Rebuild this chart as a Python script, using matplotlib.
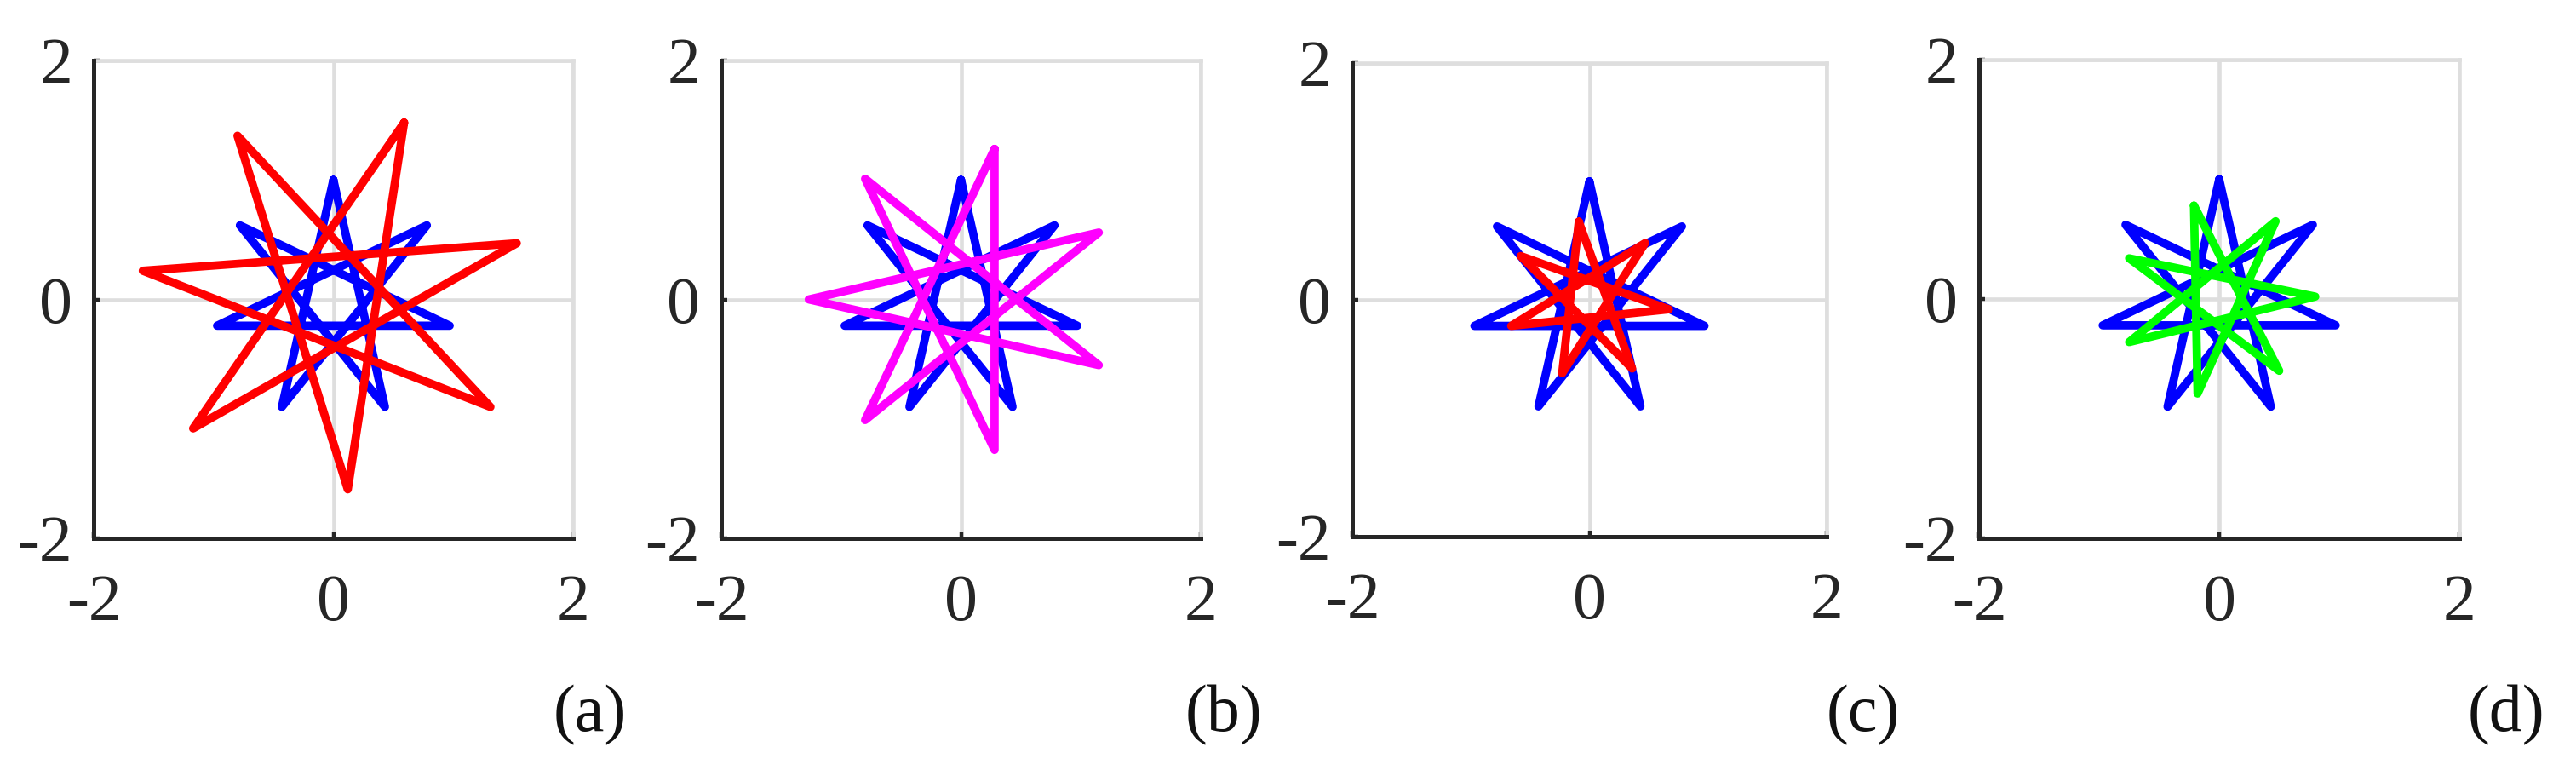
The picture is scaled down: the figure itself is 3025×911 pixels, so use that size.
import matplotlib
matplotlib.use("Agg")
import matplotlib.pyplot as plt

plt.rcParams["font.family"] = ["Liberation Serif", "DejaVu Serif"]
plt.rcParams["axes.unicode_minus"] = False

# ── Data: star vertices (clockwise, from first tip) ────────────────────────────
# original {7/3} star, drawn in blue on every panel
BLUE_X = [0.00, 0.78, 0.97, 0.43, -0.43, -0.97, -0.78]
BLUE_Y = [1.00, 0.62, -0.22, -0.90, -0.90, -0.22, 0.62]

# transformed stars
A_X = [0.59, 1.53, 1.31, 0.12, -1.17, -1.59, -0.80]
A_Y = [1.48, 0.47, -0.90, -1.59, -1.08, 0.24, 1.37]

B_X = [0.28, 1.15, 1.15, 0.28, -0.80, -1.27, -0.80]
B_Y = [1.26, 0.56, -0.55, -1.26, -1.01, 0.00, 1.01]

C_X = [-0.09, 0.47, 0.67, 0.36, -0.23, -0.66, -0.58]
C_Y = [0.66, 0.48, -0.08, -0.58, -0.62, -0.22, 0.37]

D_X = [-0.21, 0.47, 0.80, 0.50, -0.18, -0.75, -0.75]
D_Y = [0.78, 0.65, 0.02, -0.60, -0.79, -0.36, 0.34]

STAR_ORDER = [0, 3, 6, 2, 5, 1, 4, 0]   # vertex k joined to k+3

PANELS = [
    ("(a)", A_X, A_Y, "#ff0000"),
    ("(b)", B_X, B_Y, "#ff00ff"),
    ("(c)", C_X, C_Y, "#ff0000"),
    ("(d)", D_X, D_Y, "#00ff00"),
]
TICKS = [-2, 0, 2]

# ── Layout (pixels in a 3025x911 figure) ───────────────────────────────────────
W_PX, H_PX = 3025, 911
AX_BOXES = [  # left, bottom(y from top), width, height
    (110, 632, 563, 561),
    (847, 632, 563, 561),
    (1588, 630, 557, 556),
    (2324, 632, 564, 562),
]
LABEL_X = [693, 1437, 2188, 2943]
LABEL_Y = 840

AXIS_COLOR = "#262626"
GRID_COLOR = "#dedede"
FS = 56
LW = 7

fig = plt.figure(figsize=(W_PX / 100, H_PX / 100), dpi=100)

for (label, tx, ty, color), (l, b, w, h), lx in zip(PANELS, AX_BOXES, LABEL_X):
    ax = fig.add_axes([l / W_PX, 1 - b / H_PX, w / W_PX, h / H_PX])

    ax.plot([BLUE_X[i] for i in STAR_ORDER], [BLUE_Y[i] for i in STAR_ORDER],
            color="#0000ff", lw=LW, solid_joinstyle="round", solid_capstyle="round")
    ax.plot([tx[i] for i in STAR_ORDER], [ty[i] for i in STAR_ORDER],
            color=color, lw=LW, solid_joinstyle="round", solid_capstyle="round")

    ax.set_xlim(-2, 2)
    ax.set_ylim(-2, 2)
    ax.set_xticks(TICKS)
    ax.set_yticks(TICKS)
    ax.set_axisbelow(True)
    ax.grid(True, color=GRID_COLOR, lw=3.3)

    # top/right edges look like the grid lines at +2
    for side in ("top", "right"):
        ax.spines[side].set_color(GRID_COLOR)
        ax.spines[side].set_linewidth(3.3)
        ax.spines[side].set_zorder(0.6)
    for side in ("left", "bottom"):
        ax.spines[side].set_color(AXIS_COLOR)
        ax.spines[side].set_linewidth(3.6)

    ax.tick_params(direction="in", length=5, width=3.2, color=AXIS_COLOR,
                   labelsize=FS, labelcolor=AXIS_COLOR)
    ax.tick_params(axis="x", pad=30)
    ax.tick_params(axis="y", pad=18)

    fig.text(lx / W_PX, 1 - LABEL_Y / H_PX, label, fontsize=FS,
             ha="center", va="center", color="#111111")

fig.savefig("out.png", dpi=100)
